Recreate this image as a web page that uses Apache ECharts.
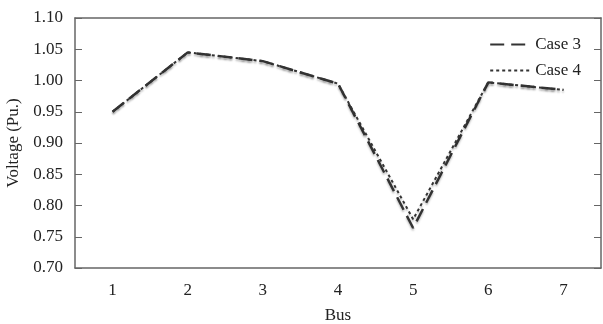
<!DOCTYPE html>
<html><head><meta charset="utf-8">
<script src="https://cdn.jsdelivr.net/npm/echarts@6/dist/echarts.min.js"></script>
<style>html,body{margin:0;padding:0;background:#fff}#c{width:603px;height:324px}</style>
</head><body><div id="c"></div>
<script>
const buses = ['1','2','3','4','5','6','7'];
const case3 = [0.950, 1.045, 1.031, 0.995, 0.764, 0.997, 0.985];
const case4 = [0.950, 1.045, 1.031, 0.995, 0.778, 0.997, 0.985];
const yTicks = [0.70, 0.75, 0.80, 0.85, 0.90, 0.95, 1.00, 1.05, 1.10];

const font = 'Liberation Serif';
const axisColor = '#666';
const chart = echarts.init(document.getElementById('c'), null, {renderer: 'canvas'});
const lineShadow = {shadowColor: 'rgba(0,0,0,0.25)', shadowBlur: 2, shadowOffsetY: 2};
chart.setOption({
  animation: false,
  grid: {left: 75, right: 2, top: 18, bottom: 56, outerBoundsMode: 'none', containLabel: false},
  legend: {
    orient: 'vertical', right: 17, top: 31, itemGap: 9, itemWidth: 40, itemHeight: 16,
    itemStyle: {opacity: 0},
    textStyle: {fontFamily: font, fontSize: 17, color: '#222'},
    data: ['Case 3', 'Case 4']
  },
  xAxis: [{
    type: 'category', data: buses, boundaryGap: true,
    name: 'Bus', nameLocation: 'middle', nameGap: 39,
    nameTextStyle: {fontFamily: font, fontSize: 17, color: '#222'},
    axisLine: {lineStyle: {color: axisColor, width: 1.5}},
    axisTick: {inside: true, alignWithLabel: true, length: 7, lineStyle: {color: axisColor}},
    axisLabel: {fontFamily: font, fontSize: 17, color: '#222', margin: 14}
  }, {
    type: 'category', data: buses, boundaryGap: true, position: 'top',
    axisLine: {lineStyle: {color: axisColor, width: 1.5}},
    axisTick: {inside: true, alignWithLabel: true, length: 7, lineStyle: {color: axisColor}},
    axisLabel: {show: false}
  }],
  yAxis: [{
    type: 'value', min: yTicks[0], max: yTicks[yTicks.length - 1], interval: 0.05,
    name: 'Voltage (Pu.)', nameLocation: 'middle', nameGap: 50,
    nameTextStyle: {fontFamily: font, fontSize: 17, color: '#222'},
    axisLine: {show: true, lineStyle: {color: axisColor, width: 1.5}},
    axisTick: {show: true, inside: true, length: 7, lineStyle: {color: axisColor}},
    axisLabel: {fontFamily: font, fontSize: 17, color: '#222', margin: 12, formatter: v => v.toFixed(2)},
    splitLine: {show: false}
  }, {
    type: 'value', min: yTicks[0], max: yTicks[yTicks.length - 1], interval: 0.05, position: 'right',
    axisLine: {show: true, lineStyle: {color: axisColor, width: 1.5}},
    axisTick: {show: true, inside: true, length: 7, lineStyle: {color: axisColor}},
    axisLabel: {show: false}, splitLine: {show: false}
  }],
  series: [{
    name: 'Case 3', type: 'line', data: case3, symbol: 'none',
    lineStyle: Object.assign({color: '#333', width: 2.5, type: [14, 7]}, lineShadow),
    itemStyle: {color: '#333'}
  }, {
    name: 'Case 4', type: 'line', data: case4, symbol: 'none',
    lineStyle: Object.assign({color: '#333', width: 2, type: [3, 3]}, lineShadow),
    itemStyle: {color: '#333'}
  }]
});
</script></body></html>
